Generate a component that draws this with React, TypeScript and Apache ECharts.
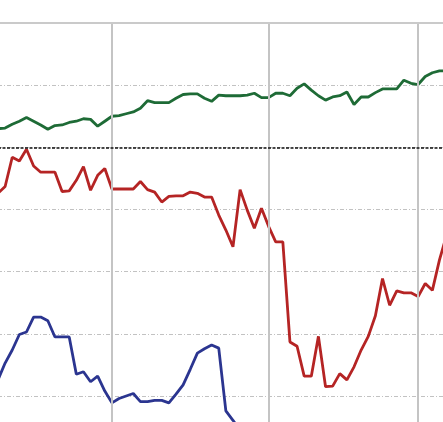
import React, { useEffect, useRef } from "react";
import * as echarts from "echarts";

// trading-day index 0..63 ; values relative to the black reference line (0)
const greenValues = [0.30, 0.31, 0.37, 0.42, 0.48, 0.42, 0.36, 0.29, 0.35, 0.36, 0.40, 0.42, 0.46, 0.45, 0.34, 0.42,
  0.50, 0.51, 0.54, 0.57, 0.63, 0.75, 0.72, 0.72, 0.72, 0.79, 0.85, 0.86, 0.86, 0.79, 0.74, 0.84,
  0.83, 0.83, 0.83, 0.84, 0.87, 0.80, 0.80, 0.87, 0.87, 0.83, 0.95, 1.02, 0.92, 0.83, 0.76, 0.81,
  0.83, 0.89, 0.69, 0.81, 0.81, 0.88, 0.94, 0.94, 0.94, 1.08, 1.03, 1.01, 1.14, 1.20, 1.23, 1.23];
const redValues = [-0.74, -0.63, -0.16, -0.22, -0.03, -0.30, -0.40, -0.40, -0.40, -0.71, -0.70, -0.53, -0.31, -0.69, -0.45, -0.34,
  -0.67, -0.67, -0.67, -0.67, -0.55, -0.68, -0.72, -0.88, -0.79, -0.78, -0.78, -0.72, -0.74, -0.80, -0.80, -1.09,
  -1.33, -1.60, -0.68, -1.01, -1.30, -0.98, -1.27, -1.52, -1.52, -3.13, -3.20, -3.68, -3.68, -3.04, -3.85, -3.84,
  -3.64, -3.74, -3.53, -3.26, -3.04, -2.71, -2.11, -2.54, -2.31, -2.34, -2.34, -2.40, -2.19, -2.30, -1.81, -1.41];
const blueValues: (number | null)[] = [-3.74, -3.47, -3.26, -3.01, -2.97, -2.73, -2.73, -2.79, -3.05, -3.05, -3.05, -3.65, -3.61, -3.77, -3.68, -3.92,
  -4.11, -4.04, -4.00, -3.96, -4.09, -4.09, -4.07, -4.07, -4.11, -3.97, -3.82, -3.57, -3.31, -3.24, -3.18, -3.23,
  -4.24, -4.39, -4.55, -4.70];
const monthStarts = [16, 38, 59];
const yTicks = { min: -5, max: 2, interval: 1 };

const toPairs = (arr: (number | null)[]) => arr.map((v, i) => [i, v]);

export default function App() {
  const ref = useRef<HTMLDivElement>(null);
  useEffect(() => {
    if (!ref.current) return;
    const chart = echarts.init(ref.current, null, { renderer: "svg" });
    chart.setOption({
      animation: false,
      backgroundColor: "#ffffff",
      grid: { left: -2, right: -3.6, top: 23, bottom: -36.2, outerBoundsMode: "none", containLabel: false },
      xAxis: {
        type: "value", min: 0, max: 63,
        axisLine: { show: false }, axisTick: { show: false }, axisLabel: { show: false }, splitLine: { show: false },
      },
      yAxis: {
        type: "value", min: yTicks.min, max: yTicks.max, interval: yTicks.interval,
        axisLine: { show: false }, axisTick: { show: false }, axisLabel: { show: false },
        splitLine: { show: true, lineStyle: { color: "#c2c2c2", width: 1, type: [4, 2, 1, 2] } },
      },
      series: [
        {
          type: "line", data: [], silent: true,
          markLine: {
            silent: true, symbol: "none", label: { show: false }, animation: false,
            data: [
              ...monthStarts.map((m) => ({ xAxis: m, lineStyle: { color: "#c4c4c4", width: 2, type: "solid" } })),
              { yAxis: yTicks.max, lineStyle: { color: "#cacaca", width: 2, type: "solid" } },
              { yAxis: 0, lineStyle: { color: "#111111", width: 1.6, type: [3, 1.5] } },
            ],
          },
        },
        { type: "line", data: toPairs(greenValues), showSymbol: false, lineStyle: { color: "#1e6b36", width: 2.8 }, z: 3 },
        { type: "line", data: toPairs(redValues), showSymbol: false, lineStyle: { color: "#b52424", width: 2.8 }, z: 3 },
        { type: "line", data: toPairs(blueValues), showSymbol: false, lineStyle: { color: "#2b3590", width: 2.8 }, z: 3 },
      ],
    });
    return () => chart.dispose();
  }, []);
  return <div ref={ref} style={{ position: "absolute", left: 0, top: 0, width: 443, height: 422 }} />;
}
